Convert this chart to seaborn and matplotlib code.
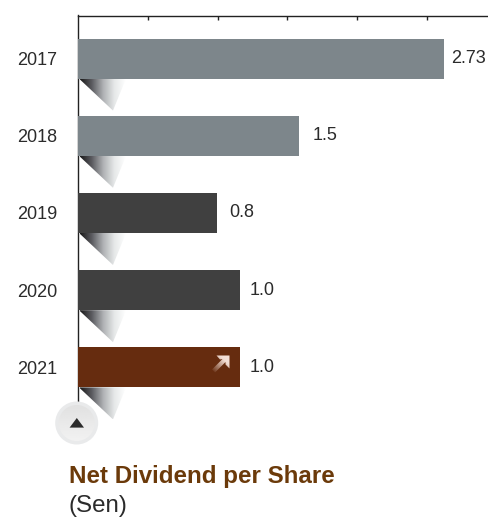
import numpy as np
import pandas as pd
import matplotlib
matplotlib.use("Agg")
import matplotlib.pyplot as plt
from matplotlib.patches import Polygon, Circle
from matplotlib.colors import LinearSegmentedColormap
import seaborn as sns

# Net dividend per share, in sen
years = ["2017", "2018", "2019", "2020", "2021"]
dividends = [2.73, 1.5, 0.8, 1.0, 1.0]
value_labels = ["2.73", "1.5", "0.8", "1.0", "1.0"]
bar_colors = ["#7D868B", "#7D868B", "#404040", "#404040", "#662C0F"]
title_text = "Net Dividend per Share"
unit_text = "(Sen)"

W, H = 489, 518
sns.set_theme(style="white")
plt.rcParams["font.family"] = ["Liberation Sans", "DejaVu Sans"]

fig = plt.figure(figsize=(W / 100, H / 100), dpi=100, facecolor="white")
ax = fig.add_axes([78.5 / W, 1 - 405 / H, (W - 78.5) / W, (405 - 15.5) / H])

frame = pd.DataFrame({"year": years, "dividend": dividends})
sns.barplot(data=frame, x="dividend", y="year", hue="year", palette=bar_colors,
            legend=False, width=0.518, ax=ax, saturation=1, zorder=3, linewidth=0)

# The value axis starts below zero, so each bar carries on to the axis line
origin = -0.37
for i, colour in enumerate(bar_colors):
    ax.barh(i, -origin + 0.01, left=origin, height=0.518, color=colour, linewidth=0, zorder=3)

ax.set_xlim(origin, 3.109)
ax.set_ylim(4.487, -0.558)
ax.set_xlabel("")
ax.set_ylabel("")
ax.xaxis.tick_top()
ax.set_xticks(origin + 0.59 * np.arange(1, 6))
ax.tick_params(axis="x", direction="in", length=3, width=1, color="#222222", labeltop=False, top=True)
ax.tick_params(axis="y", length=0, pad=15.5)
for label in ax.get_yticklabels():
    label.set_fontsize(13)
    label.set_color("#2b2b2b")
for side in ("right", "bottom"):
    ax.spines[side].set_visible(False)
for side in ("top", "left"):
    ax.spines[side].set_color("#222222")
    ax.spines[side].set_linewidth(1)

# Gap between bar end and its value, in points
label_gaps = [5, 9.4, 9.4, 7, 7]
for i, (value, text, gap) in enumerate(zip(dividends, value_labels, label_gaps)):
    ax.annotate(text, (value, i), xytext=(gap, 0), textcoords="offset points",
                va="center", ha="left", fontsize=13, color="#2b2b2b", zorder=5)

# Overlay in pixel units for the drop shadows, the arrow and the round button
overlay = fig.add_axes([0, 0, 1, 1], zorder=5)
overlay.axis("off")
overlay.patch.set_alpha(0)

shadow_cmap = LinearSegmentedColormap.from_list(
    "shadow", [(0.1, 0.1, 0.1), (0.35, 0.35, 0.37), (0.68, 0.69, 0.70), (0.9, 0.91, 0.91), (1, 1, 1)])
ramp = np.linspace(0, 1, 128).reshape(1, -1)

fig.canvas.draw()
for i in range(len(years)):
    y0 = H - ax.transData.transform((origin, i + 0.259))[1]
    x0 = 79.0
    tri = Polygon([(x0, y0), (x0 + 47, y0), (x0 + 34, y0 + 32)], facecolor="none", edgecolor="none")
    overlay.add_patch(tri)
    im = overlay.imshow(ramp, extent=(x0 + 1, x0 + 47, y0 + 32, y0), cmap=shadow_cmap,
                        aspect="auto", zorder=1, interpolation="bilinear")
    im.set_clip_path(tri)

# Arrow on the latest bar, fading towards its tail
arrow_pts = [(216.5, 355.5), (229.5, 355.5), (229.5, 368.5), (225.5, 364.5), (225.5, 362),
             (215, 372.5), (212, 369.5), (222.5, 359), (220, 359.5)]
arrow = Polygon(arrow_pts, facecolor="none", edgecolor="none")
overlay.add_patch(arrow)
fade = np.zeros((64, 64, 4))
gx, gy = np.meshgrid(np.linspace(0, 1, 64), np.linspace(0, 1, 64))
fade[..., :3] = (0.96, 0.88, 0.84)
fade[..., 3] = np.clip((gx + (1 - gy)) / 1.3 - 0.1, 0, 1)
im = overlay.imshow(fade, extent=(211, 230, 373, 355), aspect="auto", zorder=2)
im.set_clip_path(arrow)

# Scroll button under the axis
overlay.add_patch(Circle((76.7, 423), 21.5, facecolor="#E9EAEB", edgecolor="none", zorder=3))
inner = Circle((76.7, 423), 18, facecolor="none", edgecolor="none", zorder=4)
overlay.add_patch(inner)
shade = np.linspace(0.88, 0.95, 64).reshape(-1, 1)
im = overlay.imshow(shade, extent=(58, 95, 442, 404), cmap="gray", vmin=0, vmax=1,
                    aspect="auto", zorder=4)
im.set_clip_path(inner)
overlay.add_patch(Polygon([(76.8, 418), (84, 427.6), (69.6, 427.6)], facecolor="#2B2B2B",
                          edgecolor="none", zorder=5))
overlay.set_xlim(0, W)
overlay.set_ylim(H, 0)

fig.text(69 / W, 1 - 477 / H, title_text, fontsize=17.35, fontweight="bold", color="#6B3A0A",
         ha="left", va="center")
fig.text(69 / W, 1 - 506 / H, unit_text, fontsize=17.4, color="#2b2b2b", ha="left", va="center")

fig.savefig("out.png", dpi=100)
